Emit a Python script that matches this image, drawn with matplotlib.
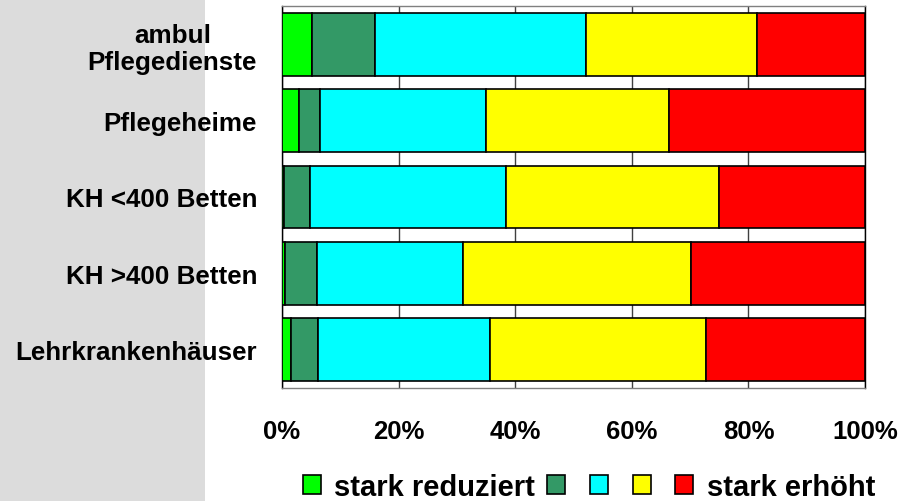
import matplotlib
matplotlib.use("Agg")
import matplotlib.pyplot as plt
import numpy as np
from matplotlib.patches import Patch, Rectangle

plt.rcParams["font.family"] = ["Liberation Sans", "DejaVu Sans"]
plt.rcParams["font.weight"] = "bold"

CATEGORIES = [
    "ambul\nPflegedienste",
    "Pflegeheime",
    "KH <400 Betten",
    "KH >400 Betten",
    "Lehrkrankenhäuser",
]

# share per answer level, in percent
STARK_REDUZIERT = [5.1, 3.0, 0.4, 0.45, 1.6]
REDUZIERT = [10.9, 3.5, 4.4, 5.55, 4.6]
GLEICH = [36.1, 28.5, 33.7, 25.0, 29.4]
ERHOEHT = [29.4, 31.4, 36.5, 39.1, 37.1]
STARK_ERHOEHT = [18.5, 33.6, 25.0, 29.9, 27.3]

SERIES = [STARK_REDUZIERT, REDUZIERT, GLEICH, ERHOEHT, STARK_ERHOEHT]
SERIES_LABELS = ["stark reduziert", "", "", "", "stark erhöht"]
COLORS = ["#00ff00", "#339966", "#00ffff", "#ffff00", "#ff0000"]

X_TICKS = [0, 20, 40, 60, 80, 100]
X_TICK_LABELS = ["0%", "20%", "40%", "60%", "80%", "100%"]


def main() -> None:
    fig = plt.figure(figsize=(9.05, 5.02), dpi=100)
    fig.patches.append(
        Rectangle((0, 0), 205 / 905, 1, transform=fig.transFigure,
                  facecolor="#dcdcdc", edgecolor="none", zorder=-10)
    )

    ax = fig.add_axes([282 / 905, 1 - 389 / 502, 583 / 905, 382 / 502])
    ax.set_facecolor("white")

    y = np.arange(len(CATEGORIES))
    left = np.zeros(len(CATEGORIES))
    for values, color in zip(SERIES, COLORS):
        ax.barh(y, values, left=left, height=0.82, color=color,
                edgecolor="black", linewidth=1.2, zorder=3)
        left += np.array(values)

    ax.set_xlim(0, 100)
    ax.set_ylim(len(CATEGORIES) - 0.5, -0.5)
    ax.set_xticks(X_TICKS, labels=X_TICK_LABELS)
    ax.set_yticks(y, labels=CATEGORIES)
    ax.tick_params(axis="x", length=0, pad=22, labelsize=18.5)
    ax.tick_params(axis="y", length=0, pad=18, labelsize=18.7)
    for label in ax.get_yticklabels():
        label.set_multialignment("center")
        label.set_linespacing(1.15)

    ax.grid(axis="x", color="#404040", linewidth=1.0, zorder=0)
    for side in ["top", "bottom"]:
        ax.spines[side].set_color("#808080")
    for side in ["left", "right"]:
        ax.spines[side].set_color("black")
    for spine in ax.spines.values():
        spine.set_linewidth(1.0)

    handles = [Patch(facecolor=c, edgecolor="black", linewidth=1.2) for c in COLORS]
    fig.legend(
        handles, SERIES_LABELS,
        loc="center", bbox_to_anchor=(589 / 905, 1 - 488 / 502),
        ncol=5, frameon=False, fontsize=21, borderpad=0,
        handlelength=0.62, handleheight=0.62,
        handletextpad=0.45, columnspacing=0.4,
    )

    fig.savefig("out.png", dpi=100)
    plt.close(fig)


if __name__ == "__main__":
    main()
